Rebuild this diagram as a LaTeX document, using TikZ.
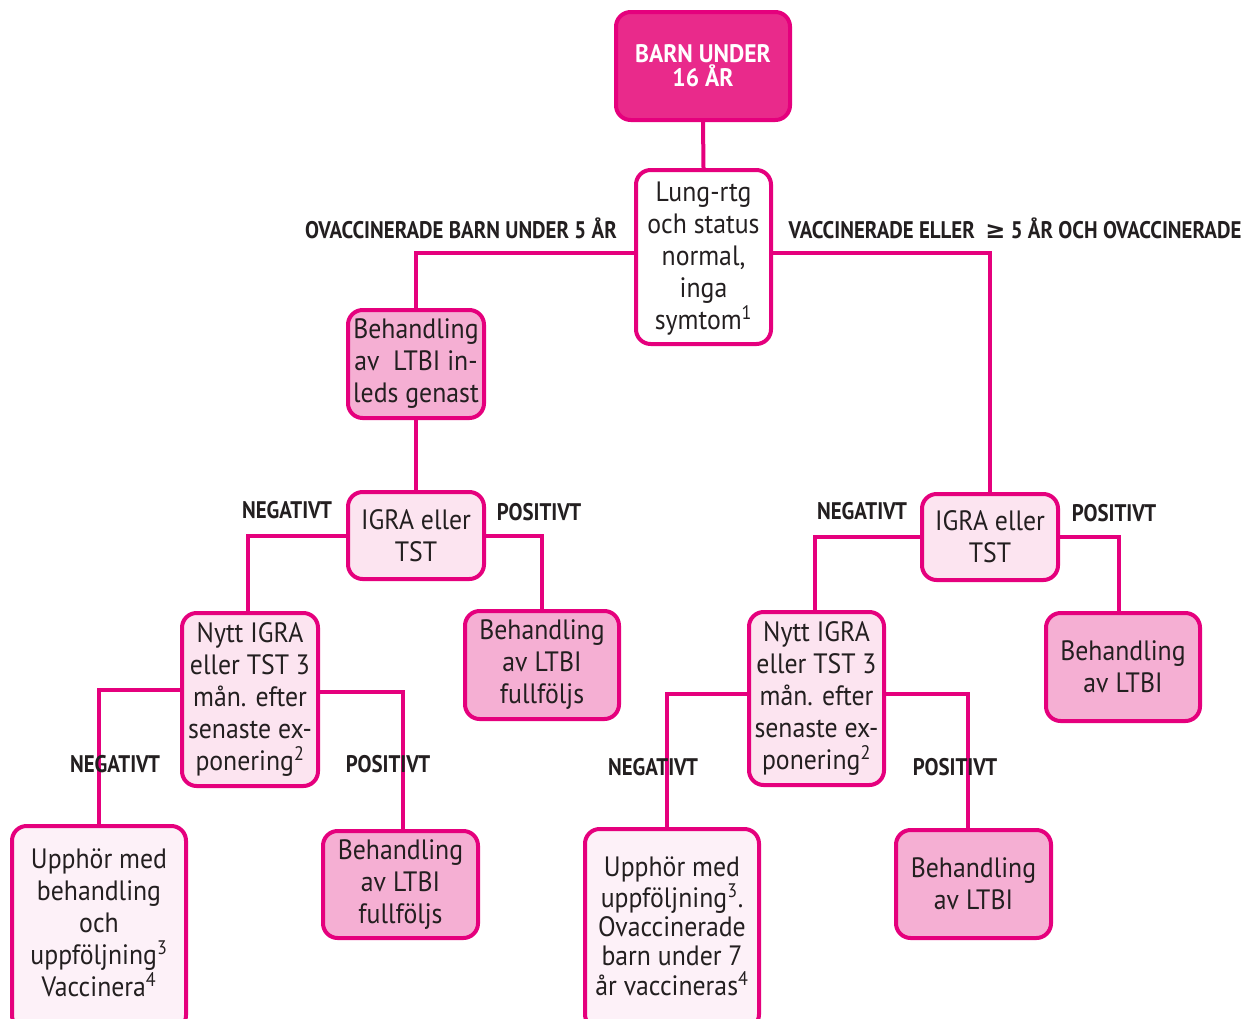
\documentclass[tikz,border=0pt]{standalone}
\usepackage{fontspec}
\setmainfont[FakeStretch=0.92]{PT Sans}
\newfontfamily\labfont[FakeStretch=0.87]{PT Sans Bold}
\newfontfamily\topfont[FakeStretch=0.93]{PT Sans Bold}
\newfontfamily\symfont{DejaVu Sans}
\definecolor{mag}{HTML}{E5007D}
\definecolor{topfill}{HTML}{E92A8B}
\definecolor{pinkfill}{HTML}{F5AFD3}
\definecolor{lightfill}{HTML}{FCE4F0}
\definecolor{palefill}{HTML}{FDF1F8}
\definecolor{txt}{HTML}{231F20}
\tikzset{
  box/.style={draw=mag, line width=3pt, rounded corners=11pt, align=center,
    inner sep=0pt, text=txt, font=\fontsize{21}{24}\selectfont},
  topbox/.style={box, fill=topfill, text=white, font=\topfont\fontsize{19}{18}\selectfont},
  pinkbox/.style={box, fill=pinkfill},
  lightbox/.style={box, fill=lightfill},
  palebox/.style={box, fill=palefill},
  whitebox/.style={box, fill=white},
  conn/.style={draw=mag, line width=3pt},
  lab/.style={text=txt, inner sep=0pt, font=\labfont\fontsize{18}{18}\selectfont},
}
\begin{document}
\begin{tikzpicture}[x=0.75pt,y=-0.75pt]
\useasboundingbox (0,0) rectangle (1260,1018);
\clip (0,0) rectangle (1260,1018);
% nodes
\node[topbox, minimum width=130.5pt, minimum height=81pt] (top) at (703,66) {BARN UNDER\\16 ÅR};
\node[whitebox, minimum width=101.25pt, minimum height=130.5pt] (lung) at (703.5,257) {\rule{0pt}{17pt}Lung-rtg\\och status\\normal,\\inga\\symtom\textsuperscript{1}};
\node[pinkbox, minimum width=102pt, minimum height=81pt] (beh1) at (416,364) {Behandling\\av\ \ LTBI in-\\leds genast};
\node[lightbox, minimum width=102pt, minimum height=65.25pt] (igraL) at (416,535.5) {IGRA eller\\TST};
\node[lightbox, minimum width=102pt, minimum height=129.75pt] (nyttL) at (250,699.5) {Nytt IGRA\\eller TST 3\\mån. efter\\senaste ex-\\ponering\textsuperscript{2}};
\node[pinkbox, minimum width=115.5pt, minimum height=81pt] (behL) at (542,665) {Behandling\\av LTBI\\fullföljs};
\node[palebox, minimum width=130.5pt, minimum height=153pt, text depth=0pt] (upL) at (99,928) {Upphör med\\behandling\\och\\uppföljning\textsuperscript{3}\\Vaccinera\textsuperscript{4}\\[-16.5pt]};
\node[pinkbox, minimum width=116.25pt, minimum height=80.25pt] (behLL) at (400.5,884.5) {Behandling\\av LTBI\\fullföljs};
\node[lightbox, minimum width=102pt, minimum height=64.5pt] (igraR) at (990,537) {IGRA eller\\TST};
\node[lightbox, minimum width=101.25pt, minimum height=129.75pt] (nyttR) at (816.5,698.5) {Nytt IGRA\\eller TST 3\\mån. efter\\senaste ex-\\ponering\textsuperscript{2}};
\node[pinkbox, minimum width=115.5pt, minimum height=81pt] (behR) at (1123,667) {Behandling\\av LTBI};
\node[palebox, minimum width=130.5pt, minimum height=150pt, font=\fontsize{21}{22}\selectfont] (upR) at (672,929) {Upphör med\\uppföljning\textsuperscript{3}.\\Ovaccinerade\\barn under 7\\år vaccineras\textsuperscript{4}\\[-17.5pt]};
\node[pinkbox, minimum width=116.25pt, minimum height=81pt] (behRR) at (973.5,884) {Behandling\\av LTBI};
% connectors
\draw[conn] (top.south) -- (lung.north);
\draw[conn] ([yshift=3pt]lung.west) -| (beh1.north);
\draw[conn] ([yshift=3pt]lung.east) -| (igraR.north);
\draw[conn] (beh1.south) -- (igraL.north);
\draw[conn] (igraL.west) -| ([xshift=-1.5pt]nyttL.north);
\draw[conn] (igraL.east) -| (behL.north);
\draw[conn] ([yshift=7.5pt]nyttL.west) -| (upL.north);
\draw[conn] ([yshift=5.5pt]nyttL.east) -| ([xshift=2pt]behLL.north);
\draw[conn] (igraR.west) -| ([xshift=-1pt]nyttR.north);
\draw[conn] (igraR.east) -| ([xshift=-3pt]behR.north);
\draw[conn] ([yshift=3.5pt]nyttR.west) -| ([xshift=-3.75pt]upR.north);
\draw[conn] ([yshift=3.5pt]nyttR.east) -| ([xshift=-4pt]behRR.north);
% labels
\node[lab] (labOv) at (461,228) {OVACCINERADE BARN UNDER 5 ÅR};
\node[lab] (labVac) at (1015,228) {VACCINERADE ELLER\ \ {\symfont\bfseries ≥} 5 ÅR OCH OVACCINERADE};
\node[lab] (neg1) at (287,510) {NEGATIVT};
\node[lab] (pos1) at (539,512) {POSITIVT};
\node[lab] (neg2) at (115,764) {NEGATIVT};
\node[lab] (pos2) at (388,764) {POSITIVT};
\node[lab] (neg3) at (862,511) {NEGATIVT};
\node[lab] (pos3) at (1114,513) {POSITIVT};
\node[lab] (neg4) at (653,767) {NEGATIVT};
\node[lab] (pos4) at (955,767) {POSITIVT};
\end{tikzpicture}
\end{document}
